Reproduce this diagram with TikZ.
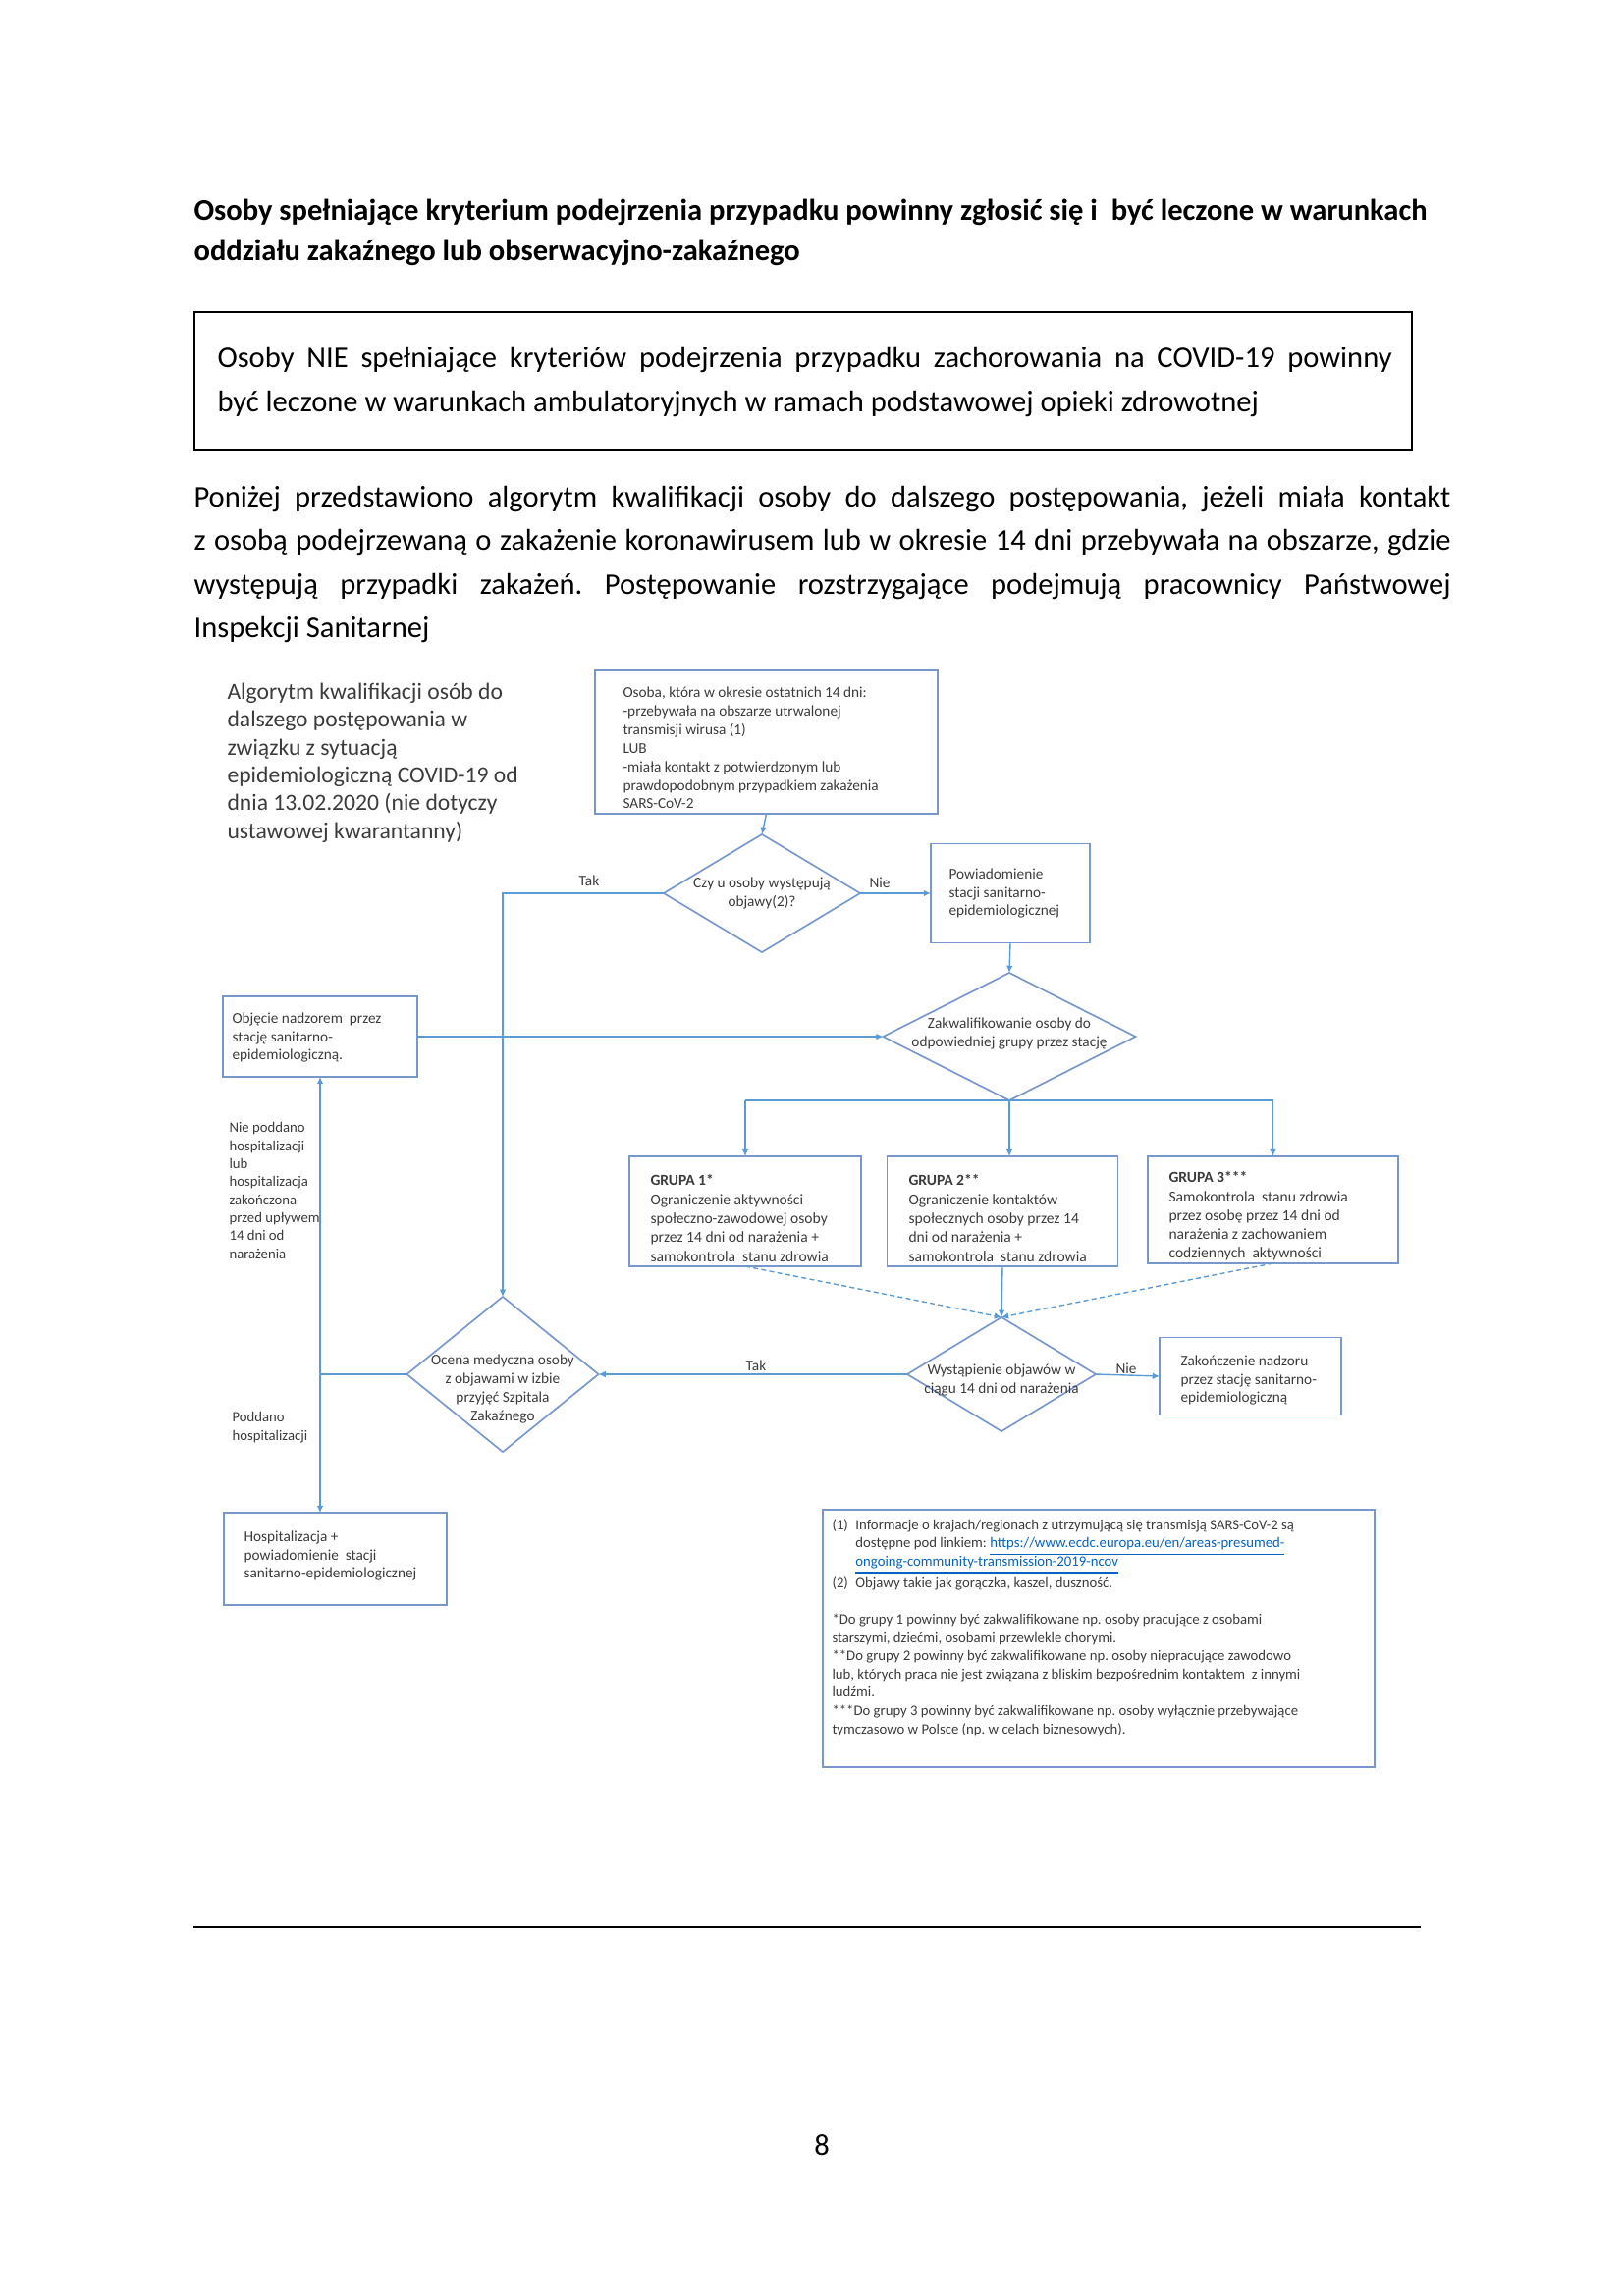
\documentclass[tikz,border=0pt]{standalone}
\usepackage{fontspec}
\setmainfont{Carlito}
\usetikzlibrary{shapes.geometric,arrows.meta}
\definecolor{lineblue}{RGB}{91,155,213}
\definecolor{boxblue}{RGB}{120,152,205}
\definecolor{dtext}{RGB}{60,60,60}
\definecolor{linkblue}{RGB}{5,99,193}
\newcommand{\lnk}[1]{\textcolor{linkblue}{\underline{#1}}}
\frenchspacing
\begin{document}
\begin{tikzpicture}[x=0.3599pt,y=-0.3599pt,
  box/.style={draw=boxblue,line width=0.6pt,inner sep=0pt,outer sep=0pt,rectangle},
  dia/.style={draw=boxblue,line width=0.6pt,diamond,inner sep=0pt,outer sep=0pt},
  dtxt/.style={font=\fontsize{5.5}{6.8}\selectfont,text=dtext,inner sep=0pt,align=left},
  gtxt/.style={dtxt,font=\fontsize{5.6}{6.95}\selectfont},
  ctxt/.style={dtxt,align=center},
  conn/.style={draw=lineblue,line width=0.5pt,-{Latex[length=2.6pt,width=2.4pt]}},
  ln/.style={draw=lineblue,line width=0.5pt},
  dconn/.style={conn,dash pattern=on 1.8pt off 1.2pt},
  body/.style={inner sep=0pt,align=left,anchor=west}
]
\useasboundingbox[fill=white] (0,0) rectangle (1654,2339);

% ---------- page text ----------
\node[body,font=\fontsize{11}{14.8}\selectfont\bfseries] (head) at (197,236.5)
  {Osoby spełniające kryterium podejrzenia przypadku powinny zgłosić się i\ \ być leczone w warunkach\\oddziału zakaźnego lub obserwacyjno-zakaźnego};

\node[draw=black,line width=0.9pt,minimum width=446.4pt,minimum height=50.4pt,inner sep=0pt,outer sep=0pt] (nbox) at (818,388) {};
\node[body,font=\fontsize{11}{16.2}\selectfont] (nboxt) at (221,388.5)
  {\makebox[430.5pt][s]{Osoby NIE spełniające kryteriów podejrzenia przypadku zachorowania na COVID-19 powinny}\\być leczone w warunkach ambulatoryjnych w ramach podstawowej opieki zdrowotnej};

\node[body,font=\fontsize{11}{15.95}\selectfont] (para) at (197,575)
  {\makebox[460.7pt][s]{Poniżej przedstawiono algorytm kwalifikacji osoby do dalszego postępowania, jeżeli miała kontakt}\\
   \makebox[460.7pt][s]{z osobą podejrzewaną o zakażenie koronawirusem lub w okresie 14 dni przebywała na obszarze, gdzie}\\
   \makebox[460.7pt][s]{występują przypadki zakażeń. Postępowanie rozstrzygające podejmują pracownicy Państwowej}\\
   Inspekcji Sanitarnej};

% ---------- diagram ----------
\node[body,text=dtext,font=\fontsize{8.5}{10.2}\selectfont] (title) at (231,777)
  {Algorytm kwalifikacji osób do\\dalszego postępowania w\\związku z sytuacją\\epidemiologiczną COVID-19 od\\dnia 13.02.2020 (nie dotyczy\\ustawowej kwarantanny)};

\node[box,minimum width=125.6pt,minimum height=52.6pt] (start) at (780.5,756) {};
\node[dtxt,anchor=west] (startt) at (634,762)
  {Osoba, która w okresie ostatnich 14 dni:\\-przebywała na obszarze utrwalonej\\transmisji wirusa (1)\\LUB\\-miała kontakt z potwierdzonym lub\\prawdopodobnym przypadkiem zakażenia\\SARS-CoV-2};

\node[dia,minimum width=72pt,minimum height=43.2pt] (d1) at (776,910) {};
\node[ctxt] (d1t) at (776,910) {Czy u osoby występują\\objawy(2)?};

\node[box,minimum width=58.3pt,minimum height=36.4pt] (pow) at (1029,910) {};
\node[dtxt,anchor=west] (powt) at (966,910) {Powiadomienie\\stacji sanitarno-\\epidemiologicznej};

\node[dia,minimum width=92.5pt,minimum height=46.8pt] (zak) at (1028,1056) {};
\node[ctxt] (zakt) at (1028,1053) {Zakwalifikowanie osoby do\\odpowiedniej grupy przez stację};

\node[box,minimum width=71.3pt,minimum height=29.5pt] (obj) at (326,1056) {};
\node[dtxt,anchor=west] (objt) at (236,1057) {Objęcie nadzorem\ \ przez\\stację sanitarno-\\epidemiologiczną.};

\node[box,minimum width=85pt,minimum height=40.3pt] (g1) at (759,1234) {};
\node[gtxt,anchor=west] (g1t) at (662,1241)
  {\textbf{GRUPA 1*}\\Ograniczenie aktywności\\społeczno-zawodowej osoby\\przez 14 dni od narażenia +\\samokontrola\ \ stanu zdrowia};
\node[box,minimum width=84.6pt,minimum height=40.3pt] (g2) at (1021,1234) {};
\node[gtxt,anchor=west] (g2t) at (925,1241)
  {\textbf{GRUPA 2**}\\Ograniczenie kontaktów\\społecznych osoby przez 14\\dni od narażenia +\\samokontrola\ \ stanu zdrowia};
\node[box,minimum width=91.8pt,minimum height=39.2pt] (g3) at (1296.5,1232.5) {};
\node[gtxt,anchor=west] (g3t) at (1190,1239)
  {\textbf{GRUPA 3***}\\Samokontrola\ \ stanu zdrowia\\przez osobę przez 14 dni od\\narażenia z zachowaniem\\codziennych\ \ aktywności};

\node[dia,minimum width=69.1pt,minimum height=41.8pt] (wyst) at (1020,1400) {};
\node[ctxt] (wystt) at (1020,1406) {Wystąpienie objawów w\\ciągu 14 dni od narażenia};

\node[box,minimum width=66.6pt,minimum height=28.4pt] (zakon) at (1273.5,1402) {};
\node[dtxt,anchor=west] (zakont) at (1202,1406) {Zakończenie nadzoru\\przez stację sanitarno-\\epidemiologiczną};

\node[dia,minimum width=70.2pt,minimum height=56.9pt] (ocena) at (512,1400) {};
\node[ctxt] (ocenat) at (512,1415) {Ocena medyczna osoby\\z objawami w izbie\\przyjęć Szpitala\\Zakaźnego};

\node[box,minimum width=81.7pt,minimum height=33.8pt] (hosp) at (341.5,1588) {};
\node[dtxt,anchor=west] (hospt) at (248,1585) {Hospitalizacja +\\powiadomienie\ \ stacji\\sanitarno-epidemiologicznej};

% labels
\node[dtxt] (ltak1) at (600,897) {Tak};
\node[dtxt] (lnie1) at (896,899) {Nie};
\node[dtxt] (ltak2) at (770,1391) {Tak};
\node[dtxt] (lnie2) at (1147,1394) {Nie};
\node[dtxt,anchor=west,font=\fontsize{5.3}{6.6}\selectfont] (lnp) at (233,1213)
  {Nie poddano\\hospitalizacji\\lub\\hospitalizacja\\zakończona\\przed upływem\\14 dni od\\narażenia};
\node[dtxt,anchor=west,font=\fontsize{5.3}{6.6}\selectfont] (lp) at (236,1454) {Poddano\\hospitalizacji};

% footnotes
\node[box,minimum width=202.3pt,minimum height=94.3pt] (foot) at (1119,1669) {};
\node[dtxt,anchor=west,font=\fontsize{5.3}{6.7}\selectfont] (foott) at (847,1658)
  {\makebox[8.6pt][l]{(1)}Informacje o krajach/regionach z utrzymującą się transmisją SARS-CoV-2 są\\
   \hspace*{8.6pt}dostępne pod linkiem: \lnk{https://www.ecdc.europa.eu/en/areas-presumed-}\\
   \hspace*{8.6pt}\lnk{ongoing-community-transmission-2019-ncov}\\
   \makebox[8.6pt][l]{(2)}Objawy takie jak gorączka, kaszel, duszność.\\[6.7pt]
   *Do grupy 1 powinny być zakwalifikowane np. osoby pracujące z osobami\\
   starszymi, dziećmi, osobami\ przewlekle chorymi.\\
   **Do grupy 2 powinny być zakwalifikowane np. osoby niepracujące zawodowo\\
   lub, których praca nie jest związana z bliskim bezpośrednim kontaktem\ \ z innymi\\
   ludźmi.\\
   ***Do grupy 3 powinny być zakwalifikowane np. osoby wyłącznie przebywające\\
   tymczasowo w Polsce (np. w celach biznesowych).};

% connectors
\coordinate (b1) at (g1.north |- zak.south);
\coordinate (b3) at (g3.north |- zak.south);
\coordinate (J) at (326,1400);
\draw[conn] (start.south) -- (d1.north);
\draw[conn] (d1.west) -| (ocena.north);
\draw[conn] (d1.east) -- (pow.west);
\draw[conn] (pow.south) -- (zak.north);
\draw[conn] (obj.east) -- (zak.west);
\draw[ln] (b1) -- (b3);
\draw[conn] (b1) -- (g1.north);
\draw[conn] (zak.south) -- (zak.south |- g2.north);
\draw[conn] (b3) -- (g3.north);
\draw[dconn] (g1.south) -- (wyst.north);
\draw[conn] (g2.south) -- (wyst.north);
\draw[dconn] (g3.south) -- (wyst.north);
\draw[conn] (wyst.west) -- (ocena.east);
\draw[conn] (wyst.east) -- (zakon.west);
\draw[ln] (ocena.west) -- (J);
\draw[conn] (J) -- (obj.south);
\draw[conn] (J) -- (J |- hosp.north);

% footer
\coordinate (fl) at (197,1963);
\coordinate (fr) at (1447,1963);
\draw[line width=0.9pt] (fl) -- (fr);
\node[font=\fontsize{11}{13}\selectfont] (pnum) at (837,2185) {8};
\end{tikzpicture}
\end{document}
